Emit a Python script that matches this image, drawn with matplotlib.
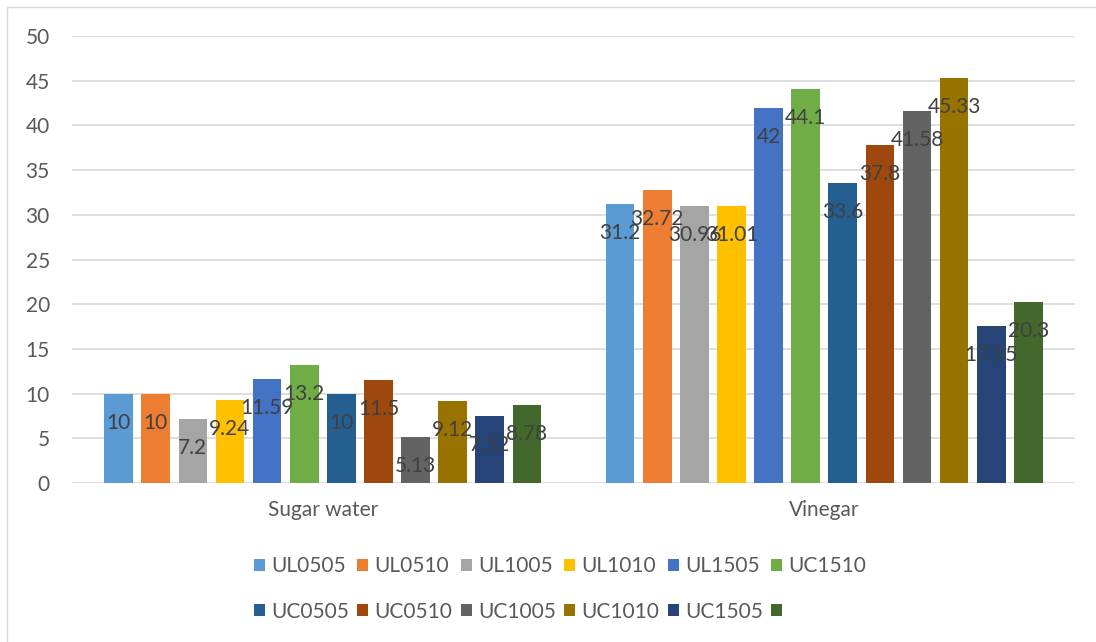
import matplotlib
matplotlib.use("Agg")
import matplotlib.pyplot as plt
from matplotlib.patches import Rectangle
import numpy as np

# ---- data ----
categories = ["Sugar water", "Vinegar"]
series_names = ["UL0505", "UL0510", "UL1005", "UL1010", "UL1505", "UC1510",
                "UC0505", "UC0510", "UC1005", "UC1010", "UC1505", ""]
sugar_water = [10, 10, 7.2, 9.24, 11.59, 13.2, 10, 11.5, 5.13, 9.12, 7.52, 8.78]
vinegar = [31.2, 32.72, 30.96, 31.01, 42, 44.1, 33.6, 37.8, 41.58, 45.33, 17.55, 20.3]
y_ticks = [0, 5, 10, 15, 20, 25, 30, 35, 40, 45, 50]

colors = ["#5B9BD5", "#ED7D31", "#A5A5A5", "#FFC000", "#4472C4", "#70AD47",
          "#255E91", "#9E480E", "#636363", "#997300", "#264478", "#43682B"]

plt.rcParams["font.family"] = ["Lato", "DejaVu Sans"]
AXIS_TEXT = "#595959"
LABEL_TEXT = "#404040"
GRID = "#D9D9D9"
FS = 15

W, H = 1096, 642
fig = plt.figure(figsize=(W / 100, H / 100), dpi=100)
fig.patch.set_facecolor("white")

# chart-area border (runs off the right and bottom edges)
fig.patches.append(Rectangle((7 / W, -0.05), 1.2, 1 - 7 / H + 0.05,
                             transform=fig.transFigure, fill=False,
                             edgecolor=GRID, linewidth=1.0))

ax = fig.add_axes([72 / W, (H - 483) / H, 1003 / W, 447 / H])

values = np.array([sugar_water, vinegar])  # shape (categories, series)
n_series = len(series_names)
pitch = 0.074
width = 0.0572
x_cat = np.arange(len(categories))

handles = []
for i in range(n_series):
    xs = x_cat + (i - (n_series - 1) / 2) * pitch
    b = ax.bar(xs, values[:, i], width=width, color=colors[i],
               label=series_names[i], zorder=2)
    handles.append(b)

# data labels, inside the end of each bar
for i in range(n_series):
    xs = x_cat + (i - (n_series - 1) / 2) * pitch
    for x, v in zip(xs, values[:, i]):
        ax.annotate(f"{v:g}", xy=(x, v), xytext=(0, -35),
                    textcoords="offset pixels", ha="center", va="baseline",
                    fontsize=FS, color=LABEL_TEXT, zorder=5)

ax.set_xlim(-0.5, 1.5)
ax.set_ylim(0, 50)
ax.set_yticks(y_ticks)
ax.set_xticks(x_cat)
ax.set_xticklabels(categories)
ax.tick_params(axis="y", length=0, pad=16, labelsize=FS, labelcolor=AXIS_TEXT)
ax.tick_params(axis="x", length=0, pad=12, labelsize=FS, labelcolor=AXIS_TEXT)
for s in ax.spines.values():
    s.set_visible(False)
ax.yaxis.grid(True, color=GRID, linewidth=1.2, zorder=0)
ax.set_axisbelow(True)

# legend: 6 columns, filled row by row
order = [0, 6, 1, 7, 2, 8, 3, 9, 4, 10, 5, 11]
leg = fig.legend([handles[k] for k in order], [series_names[k] for k in order],
                 ncol=6, loc="center", bbox_to_anchor=(560 / W, 1 - 589 / H),
                 frameon=False, fontsize=FS, labelcolor=AXIS_TEXT,
                 handlelength=0.53, handleheight=0.53, handletextpad=0.3,
                 columnspacing=0.4, labelspacing=1.2)

fig.savefig("out.png", dpi=100, facecolor="white")
